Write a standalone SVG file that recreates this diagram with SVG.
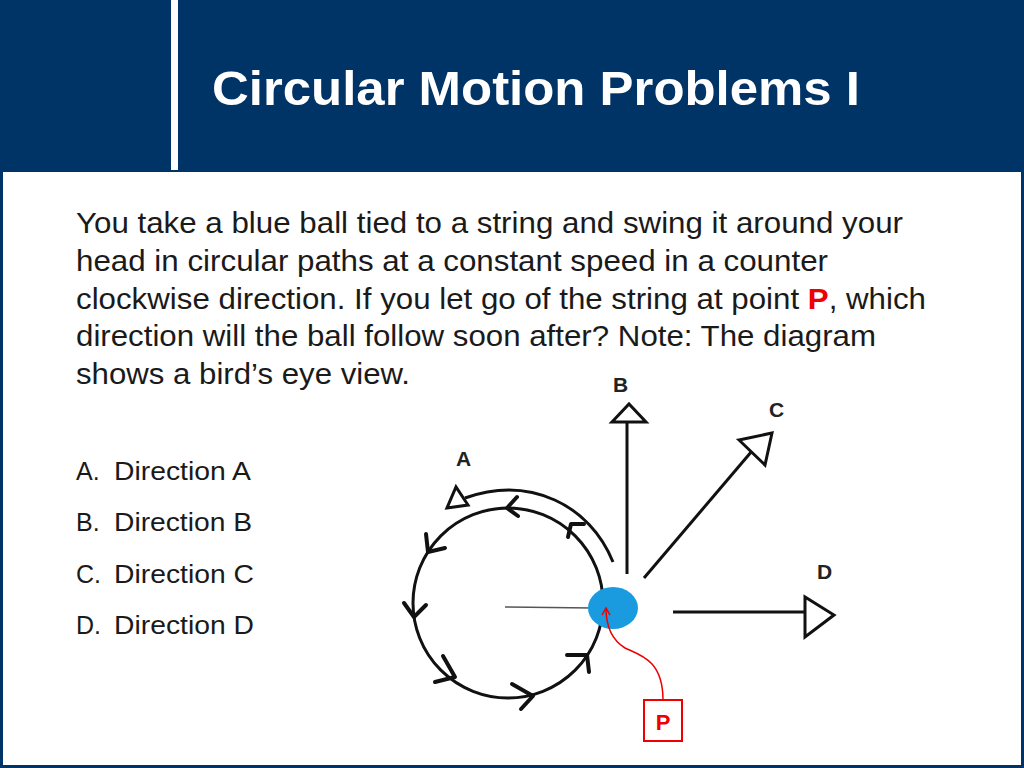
<svg xmlns="http://www.w3.org/2000/svg" width="1024" height="768" viewBox="0 0 1024 768">
<defs>
<style>
.t{font-family:"Liberation Sans",Arial,sans-serif;fill:#1a1a1a}
.l{font-family:"Liberation Sans",Arial,sans-serif;font-weight:bold;font-size:21px;fill:#222}
.k{fill:none;stroke:#111;stroke-width:3}
.c{fill:none;stroke:#111;stroke-width:4;stroke-linecap:round;stroke-linejoin:round}
.tri{fill:#fff;stroke:#111;stroke-width:3}
</style>
<marker id="ra" markerWidth="10" markerHeight="10" refX="8" refY="5" orient="auto" markerUnits="userSpaceOnUse"><path d="M1,1 L8,5 L1,9" fill="none" stroke="#e00" stroke-width="1.5"/></marker>
</defs>
<rect width="1024" height="768" fill="#003366"/>
<rect x="3" y="172" width="1018" height="593" fill="#fff"/>
<rect x="171" y="0" width="7" height="170" fill="#fff"/>
<text x="212" y="105" font-family="Liberation Sans,Arial,sans-serif" font-weight="bold" font-size="48" fill="#fff" textLength="648" lengthAdjust="spacingAndGlyphs">Circular Motion Problems I</text>
<g id="question" class="t" font-size="29">
<text x="76" y="233" textLength="827" lengthAdjust="spacingAndGlyphs">You take a blue ball tied to a string and swing it around your</text>
<text x="76" y="271" textLength="752" lengthAdjust="spacingAndGlyphs">head in circular paths at a constant speed in a counter</text>
<text x="76" y="309" textLength="850" lengthAdjust="spacingAndGlyphs">clockwise direction. If you let go of the string at point <tspan fill="#e00" font-weight="bold">P</tspan>, which</text>
<text x="76" y="346" textLength="800" lengthAdjust="spacingAndGlyphs">direction will the ball follow soon after? Note: The diagram</text>
<text x="76" y="384" textLength="334" lengthAdjust="spacingAndGlyphs">shows a bird’s eye view.</text>
</g>
<g id="options" class="t" font-size="25">
<text x="76" y="480">A.</text><text x="114" y="480" textLength="137" lengthAdjust="spacingAndGlyphs">Direction A</text>
<text x="76" y="531">B.</text><text x="114" y="531" textLength="138" lengthAdjust="spacingAndGlyphs">Direction B</text>
<text x="76" y="583">C.</text><text x="114" y="583" textLength="140" lengthAdjust="spacingAndGlyphs">Direction C</text>
<text x="76" y="634">D.</text><text x="114" y="634" textLength="140" lengthAdjust="spacingAndGlyphs">Direction D</text>
</g>
<g id="circle">
<circle cx="508" cy="603" r="95" class="k"/>
<line x1="505" y1="607" x2="592" y2="608" stroke="#555" stroke-width="1.5"/>
<path class="c" d="M517,497 L507,508 L518,516"/>
<path class="c" d="M568,537 L571,524 L584,524"/>
<path class="c" d="M426,534 L428,552 L445,548"/>
<path class="c" d="M404,603 L414,617 L426,605"/>
<path class="c" d="M443,656 L455,677 L435,682"/>
<path class="c" d="M512,684 L533,696 L521,709"/>
<path class="c" d="M567,655 L587,655 L589,672"/>
</g>
<g id="ball"><ellipse cx="613" cy="608" rx="25" ry="21" fill="#1a9be0"/></g>
<g id="connectors">
<path class="k" d="M613,562 C590,505 530,475 465,498"/>
<polygon class="tri" points="447,508 468,505 456,487"/>
<line class="k" x1="627" y1="574" x2="627" y2="422"/>
<polygon class="tri" points="612,422 646,422 629,404"/>
<line class="k" x1="644" y1="578" x2="752" y2="451"/>
<polygon class="tri" points="739,440 772,433 765,465"/>
<line class="k" x1="673" y1="612" x2="805" y2="612"/>
<polygon class="tri" points="805,597 805,637 834,615"/>
<path d="M663,700 C663,660 640,655 625,648 C612,640 606,625 606,608" fill="none" stroke="#e00" stroke-width="1.5" marker-end="url(#ra)"/>
</g>
<g id="labels">
<text class="l" x="613" y="392">B</text>
<text class="l" x="769" y="417">C</text>
<text class="l" x="456" y="466">A</text>
<text class="l" x="817" y="579">D</text>
</g>
<g id="P">
<rect x="644" y="700" width="38" height="41" fill="#fff" stroke="#e00" stroke-width="2"/>
<text x="663" y="730" text-anchor="middle" font-family="Liberation Sans,Arial,sans-serif" font-weight="bold" font-size="22" fill="#e00">P</text>
</g>
</svg>
